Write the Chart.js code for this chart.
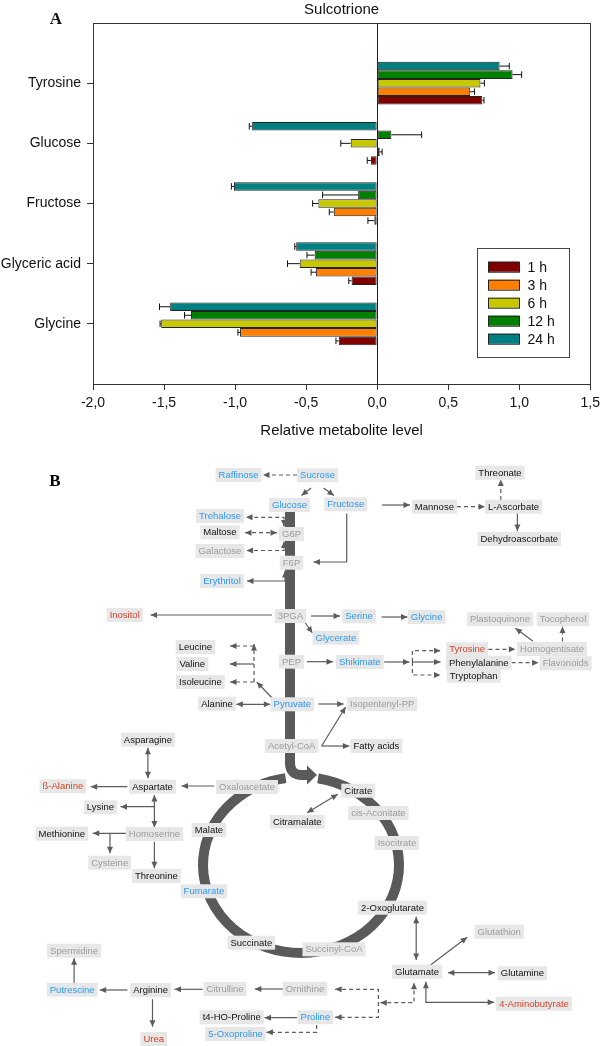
<!DOCTYPE html>
<html>
<head>
<meta charset="utf-8">
<script src="https://cdn.jsdelivr.net/npm/chart.js@4.4.1/dist/chart.umd.min.js"></script>
<style>
  html, body { margin: 0; padding: 0; background: #fff; }
  #panelA { position: absolute; left: 0; top: 0; width: 605px; height: 445px; }
  #panelB { position: absolute; left: 0; top: 445px; width: 605px; height: 601px; }
</style>
</head>
<body>
<div id="panelA"><canvas id="barChart"></canvas></div>
<div id="panelB"><canvas id="pathChart"></canvas></div>
<script>
// ---------- Panel A data ----------
const metabolites = ['Tyrosine', 'Glucose', 'Fructose', 'Glyceric acid', 'Glycine'];
const timeLabels = ['1 h', '3 h', '6 h', '12 h', '24 h'];
const level1h  = [0.74, -0.043, -0.02, -0.18, -0.27];
const level3h  = [0.655, 0.018, -0.305, -0.43, -0.965];
const level6h  = [0.727, -0.186, -0.414, -0.545, -1.52];
const level12h = [0.953, 0.10, -0.134, -0.44, -1.31];
const level24h = [0.862, -0.88, -1.008, -0.57, -1.457];
const err1h  = [0.012, 0.027, 0.045, 0.02, 0.02];
const err3h  = [0.03, 0.017, 0.032, 0.035, 0.015];
const err6h  = [0.028, 0.07, 0.04, 0.086, 0.008];
const err12h = [0.064, 0.213, 0.25, 0.054, 0.046];
const err24h = [0.068, 0.02, 0.018, 0.01, 0.075];
const xTicks = [-2, -1.5, -1, -0.5, 0, 0.5, 1, 1.5];

// ---------- Panel B data ----------
const metNames = ['Raffinose','Sucrose','Glucose','Fructose','Mannose','L-Ascorbate','Threonate','Dehydroascorbate',
  'Trehalose','Maltose','G6P','Galactose','F6P','Erythritol','Inositol','3PGA','Serine','Glycine','Glycerate',
  'Plastoquinone','Tocopherol','Leucine','Tyrosine','Homogentisate','Valine','Isoleucine','PEP','Shikimate',
  'Phenylalanine','Flavonoids','Tryptophan','Alanine','Pyruvate','Isopentenyl-PP','Asparagine','Acetyl-CoA',
  'Fatty acids','ß-Alanine','Aspartate','Oxaloacetate','Citrate','Lysine','cis-Aconitate','Citramalate',
  'Methionine','Homoserine','Malate','Isocitrate','Cysteine','Threonine','Fumarate','2-Oxoglutarate',
  'Glutathion','Spermidine','Succinate','Succinyl-CoA','Glutamate','Glutamine','Putrescine','Arginine',
  'Citrulline','Ornithine','4-Aminobutyrate','t4-HO-Proline','Proline','5-Oxoproline','Urea'];
const metX = [238.6,317.5,289.5,345.7,434.4,513.5,500,519.3,
  220,220,291.5,220,291.5,222,124.7,290.3,359,426.6,335.9,
  500,563,195.4,467.2,552,192.3,200.4,291.5,359.8,
  478.8,565.6,473.7,217,292.3,382.2,147.9,291.7,
  376.4,62.9,152.5,247,358.3,100.4,378.4,297.3,
  61.8,154.4,208.9,396.9,109.7,156.4,203.9,392.5,
  499.2,74.1,251.3,334,417,522.4,72.2,150.6,
  225.1,305,534,231.7,315.4,235.5,153.7];
const metY = [475,475.3,505,504.3,506.7,506.7,472.7,539,
  516,532.3,534,551,562.7,581,615,616,616.3,617,637.7,
  619.3,619.3,647,649.3,649,664,682,661.7,662,
  662.7,663.3,675.7,703.7,704.3,704,739.7,746,
  746,786.3,786.7,787,790.7,807.3,813,821.7,
  833.7,834,830,843,862.7,876,891.3,907.7,
  931.7,950.7,942.7,949.3,971.7,973.3,989.7,990,
  989,988.7,1003.7,1017.3,1017.3,1034,1039];
// response class: 'down' decreased, 'up' increased, 'nc' unchanged, 'nd' not detected
const metClass = ['down','down','down','down','nc','nc','nc','nc',
  'down','nc','nd','nd','nd','down','up','nd','down','down','down',
  'nd','nd','nc','up','nd','nc','nc','nd','down',
  'nc','nd','nc','nc','down','nd','nc','nd',
  'nc','up','nc','nd','nc','nc','nd','nc',
  'nc','nd','nc','nd','nd','nc','down','nc',
  'nd','nd','nc','nd','nc','nc','down','nc',
  'nd','nd','up','nc','down','down','up'];

const linkPoints = [
  [[297,475],[263,475]], [[311,488],[301.5,495.5]], [[323.5,488],[334,495.5]],
  [[382,505],[410,505]], [[457,506.7],[485,506.7]], [[500.8,500],[500.8,479.5]],
  [[517.4,511.5],[517.4,531]], [[346.7,513.5],[346.7,562],[313.5,562]],
  [[284,526.5],[284,517.3],[246,517.3]], [[245,532.7],[277,532.7]],
  [[284,541.5],[284,550.5],[246.5,550.5]], [[285,571],[285,581],[247,581]],
  [[272,615],[150.5,615]], [[311,616],[340,616]], [[381.5,617],[407.5,617]],
  [[305,622.5],[312.5,633]], [[532.8,641],[515.4,628.3]], [[562.5,641.5],[562.5,626.5]],
  [[488.4,649.3],[515.4,649.3]], [[307,661.7],[333,661.7]], [[384.2,662],[409.5,662]],
  [[412.4,662],[440.5,662]], [[412.4,662],[412.4,650.7],[440.5,650.7]],
  [[412.4,662],[412.4,675],[440.5,675]], [[511.6,662.7],[538.6,662.7]],
  [[274,700],[256.8,682]], [[254,682],[254,644]], [[254,646],[230,646]],
  [[254,664],[230,664]], [[254,682],[230,682]], [[236.3,704.3],[270.3,704.3]],
  [[318.5,704],[343.6,704]], [[321.6,746],[345.6,707]], [[321.6,746],[349.4,746]],
  [[147.9,747.7],[147.9,778.3]], [[127.4,786.7],[90.7,786.7]], [[214.3,786],[181.5,786]],
  [[154.4,795],[154.4,827.5]], [[154.4,806.7],[120.5,806.7]], [[337.8,794.3],[307,812.7]],
  [[127.4,833.3],[92.7,833.3]], [[110,833.3],[110,853.3]], [[154.4,841.7],[154.4,868.3]],
  [[416.2,916.7],[416.2,960]], [[430.5,965],[467.2,937.3]], [[447.9,972.7],[495,972.7]],
  [[425.9,981.7],[425.9,1002.3],[494.2,1002.3]], [[74.1,983.3],[74.1,958.3]],
  [[127.4,990],[99.6,990]], [[202.7,989.3],[174.5,989.3]], [[283.8,989],[254.8,989]],
  [[152.5,999.3],[152.5,1026.7]], [[380.3,1002.7],[414,1002.7],[414,982.7]],
  [[335.1,989.3],[378.4,989.3],[378.4,1017.3],[335.1,1017.3]],
  [[297.3,1017.7],[264.5,1017.7]], [[316.6,1025],[316.6,1032.3],[266.4,1032.3]]
];
const linkDashed = [
  true,false,false, false,true,true, false,false, true,true, true,false,
  false,false,false, false,false,true, true,false,false, false,true, true,true,
  false,true,true, false,true,false, false,false,false, false,false,false,
  false,false,false, false,false,false, false,false,false, false,false,
  false,false,false, false,true, true, false,true
];
const linkBoth = [
  false,false,false, false,false,false, false,false, true,true, true,true,
  false,false,false, false,false,false, false,false,false, false,false, false,false,
  false,false,false, false,false,true, false,false,false, true,false,false,
  true,false,true, false,false,false, true,false,true, true,false,
  false,false,false, false,true, true, false,false
];

// ---------- Panel A ----------
const colors = { '1 h': '#800000', '3 h': '#ff8000', '6 h': '#c8c800', '12 h': '#008000', '24 h': '#008080' };
const pad = arr => [null, ...arr, null];
const series = [
  { label: '24 h', values: level24h, errs: err24h },
  { label: '12 h', values: level12h, errs: err12h },
  { label: '6 h',  values: level6h,  errs: err6h },
  { label: '3 h',  values: level3h,  errs: err3h },
  { label: '1 h',  values: level1h,  errs: err1h }
];

const fontFam = '"Liberation Sans", Arial, sans-serif';

const panelAExtras = {
  id: 'panelAExtras',
  afterDatasetsDraw(chart) {
    const { ctx, chartArea: a, scales: { x } } = chart;
    ctx.save();
    // error bars (one-sided, outward)
    ctx.strokeStyle = '#111';
    ctx.lineWidth = 1;
    series.forEach((s, di) => {
      const meta = chart.getDatasetMeta(di);
      meta.data.forEach((bar, j) => {
        const v = chart.data.datasets[di].data[j];
        if (v === null) return;
        const e = s.errs[j - 1];
        const p = bar.getProps(['x', 'y', 'height'], true);
        const end = x.getPixelForValue(v >= 0 ? v + e : v - e);
        const h = p.height / 2 - 1;
        ctx.beginPath();
        ctx.moveTo(p.x, p.y); ctx.lineTo(end, p.y);
        ctx.moveTo(end, p.y - h); ctx.lineTo(end, p.y + h);
        ctx.stroke();
      });
    });
    // zero line and frame
    const zx = Math.round(x.getPixelForValue(0)) + 0.5;
    ctx.strokeStyle = '#222';
    ctx.beginPath(); ctx.moveTo(zx, a.top); ctx.lineTo(zx, a.bottom); ctx.stroke();
    ctx.strokeStyle = '#333';
    ctx.strokeRect(Math.round(a.left) + 0.5, Math.round(a.top) + 0.5, Math.round(a.right - a.left), Math.round(a.bottom - a.top));
    // legend
    const lx = 477, ly = 248;
    ctx.fillStyle = '#fff';
    ctx.fillRect(lx, ly, 92, 109);
    ctx.strokeStyle = '#444';
    ctx.strokeRect(lx + 0.5, ly + 0.5, 92, 109);
    ctx.font = '14px ' + fontFam;
    ctx.textBaseline = 'middle';
    timeLabels.forEach((t, i) => {
      const cy = ly + 18.7 + i * 18;
      ctx.fillStyle = colors[t];
      ctx.fillRect(488, cy - 5, 31, 10);
      ctx.strokeStyle = '#222';
      ctx.strokeRect(488.5, cy - 4.5, 31, 10);
      ctx.fillStyle = '#111';
      ctx.fillText(t, 527.5, cy + 1);
    });
    // titles
    const cx = (a.left + a.right) / 2;
    ctx.textAlign = 'center';
    ctx.font = '15px ' + fontFam;
    ctx.fillText('Sulcotrione', cx, 10);
    ctx.fillText('Relative metabolite level', cx, 431);
    ctx.font = 'bold 17px "Liberation Serif", "DejaVu Serif", serif';
    ctx.fillText('A', 56, 20);
    ctx.restore();
  }
};

new Chart(document.getElementById('barChart'), {
  type: 'bar',
  data: {
    labels: ['', ...metabolites, ''],
    datasets: series.map(s => ({
      label: s.label,
      data: pad(s.values),
      backgroundColor: colors[s.label],
      borderColor: '#222',
      borderWidth: 1,
      borderSkipped: false,
      categoryPercentage: 0.71,
      barPercentage: 1.0
    }))
  },
  plugins: [panelAExtras],
  options: {
    indexAxis: 'y',
    responsive: true,
    maintainAspectRatio: false,
    animation: false,
    layout: { padding: { top: 23, right: 10.5, left: 0, bottom: 0 } },
    plugins: { legend: { display: false }, tooltip: { enabled: false } },
    scales: {
      x: {
        min: -2, max: 1.5,
        afterBuildTicks: s => { s.ticks = xTicks.map(v => ({ value: v })); },
        ticks: {
          color: '#111', padding: 5,
          font: { family: fontFam, size: 14 },
          callback: v => v.toFixed(1).replace('.', ',')
        },
        grid: { drawOnChartArea: false, tickLength: 6, tickColor: '#333' },
        border: { color: '#333' },
        afterFit: s => { s.height = 61; }
      },
      y: {
        offset: false,
        ticks: { color: '#111', padding: 6, autoSkip: false, font: { family: fontFam, size: 14 } },
        grid: {
          offset: false,
          drawOnChartArea: false, tickLength: 6,
          tickColor: c => (c.index === 0 || c.index === metabolites.length + 1) ? 'rgba(0,0,0,0)' : '#333'
        },
        border: { color: '#333' },
        afterFit: s => { s.width = 93; }
      }
    }
  }
});

// ---------- Panel B ----------
const textColors = { down: '#2b9af3', up: '#d4442b', nc: '#111111', nd: '#9c9c9c' };
const flowColor = '#5c5c5c';
const trunk = { x: 290, top: 511, bend: 775 };
const ring = { cx: 301, cy: 865, rx: 98, ry: 88, from: -80, to: 261 };

const pathwayDecor = {
  id: 'pathwayDecor',
  beforeDatasetsDraw(chart) {
    const { ctx, scales: { x, y } } = chart;
    ctx.save();
    ctx.strokeStyle = '#5a5a5a';
    ctx.fillStyle = '#5a5a5a';
    ctx.lineWidth = 10;
    // TCA cycle ring
    const cx = x.getPixelForValue(ring.cx), cy = y.getPixelForValue(ring.cy);
    const rx = x.getPixelForValue(ring.cx + ring.rx) - cx;
    const ry = Math.abs(y.getPixelForValue(ring.cy + ring.ry) - cy);
    ctx.beginPath();
    ctx.ellipse(cx, cy, rx, ry, 0, ring.from * Math.PI / 180, ring.to * Math.PI / 180);
    ctx.stroke();
    // glycolysis trunk with bend and arrow into the cycle
    const tx = x.getPixelForValue(trunk.x);
    const ty = y.getPixelForValue(trunk.top);
    const by = y.getPixelForValue(trunk.bend);
    ctx.beginPath();
    ctx.moveTo(tx, ty);
    ctx.lineTo(tx, by - 12);
    ctx.quadraticCurveTo(tx, by, tx + 12, by);
    ctx.lineTo(tx + 18, by);
    ctx.stroke();
    ctx.beginPath();
    ctx.moveTo(tx + 17, by - 9.5);
    ctx.lineTo(tx + 27, by);
    ctx.lineTo(tx + 17, by + 9.5);
    ctx.closePath();
    ctx.fill();
    ctx.restore();
  },
  afterDatasetsDraw(chart) {
    const { ctx } = chart;
    ctx.save();
    // arrow heads
    ctx.fillStyle = flowColor;
    const head = (p, q) => {
      const ang = Math.atan2(p.y - q.y, p.x - q.x);
      ctx.beginPath();
      ctx.moveTo(p.x, p.y);
      ctx.lineTo(p.x - 6.5 * Math.cos(ang) + 3 * Math.sin(ang), p.y - 6.5 * Math.sin(ang) - 3 * Math.cos(ang));
      ctx.lineTo(p.x - 6.5 * Math.cos(ang) - 3 * Math.sin(ang), p.y - 6.5 * Math.sin(ang) + 3 * Math.cos(ang));
      ctx.closePath();
      ctx.fill();
    };
    linkPoints.forEach((pts, i) => {
      const pe = chart.getDatasetMeta(i + 1).data;
      const n = pe.length;
      head(pe[n - 1], pe[n - 2]);
      if (linkBoth[i]) head(pe[0], pe[1]);
    });
    // metabolite boxes
    ctx.font = '9.5px ' + fontFam;
    ctx.textAlign = 'center';
    ctx.textBaseline = 'middle';
    chart.getDatasetMeta(0).data.forEach((pt, i) => {
      const w = ctx.measureText(metNames[i]).width + 6;
      ctx.fillStyle = '#e7e7e7';
      ctx.fillRect(pt.x - w / 2, pt.y - 7, w, 14);
      ctx.fillStyle = textColors[metClass[i]];
      ctx.fillText(metNames[i], pt.x, pt.y + 0.5);
    });
    ctx.fillStyle = '#000';
    ctx.font = 'bold 17px "Liberation Serif", "DejaVu Serif", serif';
    ctx.fillText('B', 55, 482 - 445);
    ctx.restore();
  }
};

new Chart(document.getElementById('pathChart'), {
  type: 'scatter',
  data: {
    datasets: [
      {
        label: 'metabolites',
        data: metNames.map((n, i) => ({ x: metX[i], y: metY[i] })),
        pointRadius: 0
      },
      ...linkPoints.map((pts, i) => ({
        type: 'line',
        data: pts.map(p => ({ x: p[0], y: p[1] })),
        showLine: true,
        borderColor: flowColor,
        borderWidth: 1.2,
        borderDash: linkDashed[i] ? [4, 3] : [],
        pointRadius: 0,
        fill: false,
        tension: 0,
        clip: false
      }))
    ]
  },
  plugins: [pathwayDecor],
  options: {
    responsive: true,
    maintainAspectRatio: false,
    animation: false,
    layout: { padding: 0 },
    plugins: { legend: { display: false }, tooltip: { enabled: false } },
    scales: {
      x: { type: 'linear', min: 0, max: 605, display: false },
      y: { type: 'linear', min: 445, max: 1046, reverse: true, display: false }
    }
  }
});
</script>
</body>
</html>
